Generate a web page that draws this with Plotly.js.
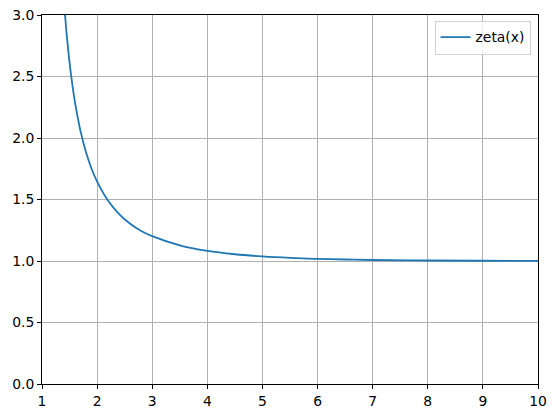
<!DOCTYPE html>
<html>
<head>
<script src="https://cdn.plot.ly/plotly-3.0.1.min.js"></script>
<style>html,body{margin:0;padding:0;background:#fff;}#chart{width:556px;height:418px;}</style>
</head>
<body>
<div id="chart"></div>
<script>
const xValues = [1.40, 1.45, 1.50, 1.55, 1.60, 1.65, 1.70, 1.80, 1.90, 2.00, 2.20, 2.40, 2.60, 2.80, 3.00, 3.50, 4.00, 4.50, 5.00, 5.50, 6.00, 6.50, 7.00, 8.00, 9.00, 10.00];
const zetaValues = [3.106, 2.832, 2.612, 2.435, 2.285, 2.163, 2.054, 1.882, 1.750, 1.645, 1.490, 1.382, 1.303, 1.244, 1.202, 1.127, 1.082, 1.055, 1.037, 1.025, 1.017, 1.012, 1.008, 1.004, 1.002, 1.001];
const xTicks = [1, 2, 3, 4, 5, 6, 7, 8, 9, 10];
const yTicks = [0, 0.5, 1, 1.5, 2, 2.5, 3];
const yTickLabels = ['0.0', '0.5', '1.0', '1.5', '2.0', '2.5', '3.0'];

const trace = {
  x: xValues, y: zetaValues, type: 'scatter', mode: 'lines', name: 'zeta(x)',
  line: {color: '#1f77b4', width: 1.8, shape: 'spline', smoothing: 1}
};
const axisCommon = {
  showline: true, linecolor: 'black', linewidth: 1, mirror: true,
  ticks: 'outside', ticklen: 4, tickcolor: 'black', tickwidth: 1,
  showgrid: true, gridcolor: '#b0b0b0', gridwidth: 1, zeroline: false,
  tickfont: {family: 'DejaVu Sans', size: 13.9, color: 'black'}
};
const layout = {
  width: 556, height: 418,
  margin: {l: 42, r: 18, t: 15, b: 34},
  paper_bgcolor: 'white', plot_bgcolor: 'white',
  xaxis: Object.assign({}, axisCommon, {range: [1, 10], tickvals: xTicks}),
  yaxis: Object.assign({}, axisCommon, {range: [0, 3], tickvals: yTicks, ticktext: yTickLabels}),
  showlegend: true,
  legend: {x: 0.985, y: 0.985, xanchor: 'right', yanchor: 'top', bgcolor: 'rgba(255,255,255,0.8)',
    bordercolor: '#d0d0d0', borderwidth: 1, font: {family: 'DejaVu Sans', size: 13.9, color: 'black'}}
};
Plotly.newPlot('chart', [trace], layout, {displayModeBar: false, staticPlot: true});
</script>
</body>
</html>
